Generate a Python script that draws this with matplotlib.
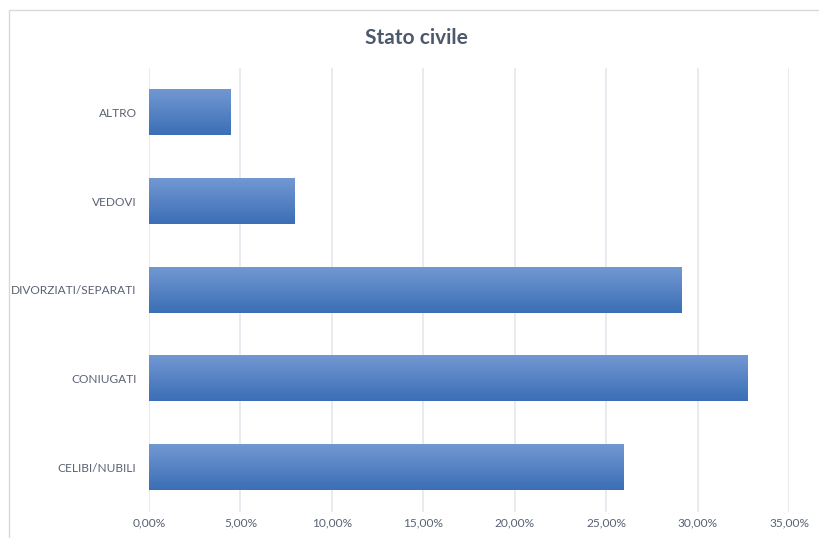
import numpy as np
import matplotlib.pyplot as plt
from matplotlib.colors import LinearSegmentedColormap
from matplotlib.patches import Rectangle
from matplotlib.ticker import FuncFormatter

plt.rcParams['font.family'] = ['Lato', 'DejaVu Sans']

categorie = ['CELIBI/NUBILI', 'CONIUGATI', 'DIVORZIATI/SEPARATI', 'VEDOVI', 'ALTRO']
percentuali = [25.97, 32.75, 29.14, 7.93, 4.43]
tick_x = [0, 5, 10, 15, 20, 25, 30, 35]

testo = '#596273'
titolo = '#4C596C'
griglia = '#E4E7EC'

fig = plt.figure(figsize=(8.19, 5.38), dpi=100)
ax = fig.add_axes([149 / 819, 1 - 512 / 538, 640 / 819, 444 / 538])

# cornice dell'area grafico
fig.patches.append(Rectangle((9 / 819, -0.05), 1.0, 1 - 10 / 538 + 0.05,
                             transform=fig.transFigure, fill=False,
                             edgecolor='#D9D9D9', linewidth=1))

y = np.arange(len(categorie))
barre = ax.barh(y, percentuali, height=0.51, color='none', edgecolor='none', zorder=3)

# riempimento sfumato stile Excel
sfumatura = LinearSegmentedColormap.from_list('blu', ['#3B6EB6', '#7298D2'])
grad = np.linspace(0, 1, 256).reshape(-1, 1)
for b in barre:
    x0, y0 = b.get_x(), b.get_y()
    ax.imshow(grad, cmap=sfumatura, aspect='auto', origin='lower',
              extent=[x0, x0 + b.get_width(), y0, y0 + b.get_height()], zorder=3)

ax.set_xlim(0, 35)
ax.set_ylim(-0.5, len(categorie) - 0.5)
ax.set_xticks(tick_x)
ax.xaxis.set_major_formatter(FuncFormatter(lambda v, p: f'{v:.2f}%'.replace('.', ',')))
ax.set_yticks(y)
ax.set_yticklabels(categorie)

ax.grid(axis='x', color=griglia, linewidth=1.2, zorder=0)
for s in ax.spines.values():
    s.set_visible(False)
ax.tick_params(length=0, labelsize=8.6, colors=testo)
ax.tick_params(axis='x', pad=4)
ax.tick_params(axis='y', pad=9)

fig.text(416 / 819, 1 - 38 / 538, 'Stato civile', ha='center', va='center',
         fontsize=15, fontweight='bold', color=titolo)

fig.savefig('out.png', dpi=100)
